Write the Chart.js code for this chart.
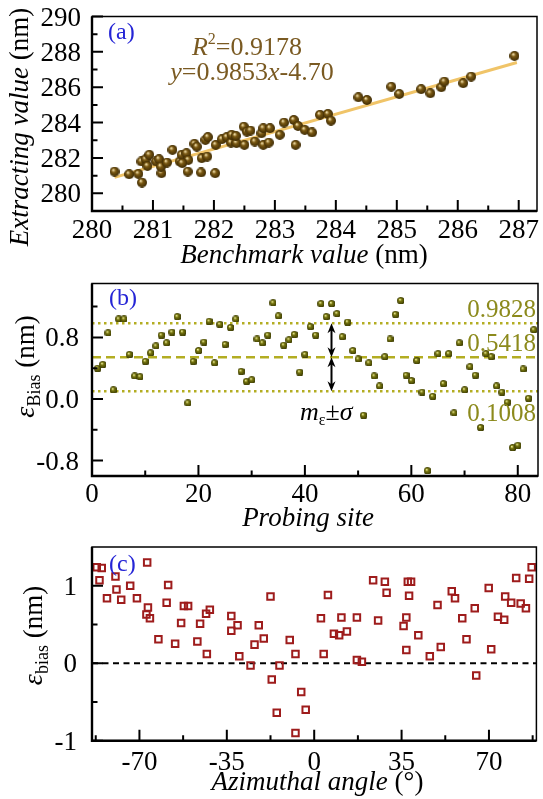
<!DOCTYPE html>
<html><head><meta charset="utf-8">
<script src="https://cdn.jsdelivr.net/npm/chart.js@4.4.0/dist/chart.umd.min.js"></script>
<style>
html,body{margin:0;padding:0;background:#fff;}
#wrap{position:relative;width:543px;height:799px;overflow:hidden;background:#fff;}
canvas{position:absolute;left:0;}
</style></head><body>
<div id="wrap">
<canvas id="ca" width="543" height="270" style="top:0px"></canvas>
<canvas id="cb" width="543" height="265" style="top:270px"></canvas>
<canvas id="cc" width="543" height="264" style="top:535px"></canvas>
</div>
<script>
// ---------------- Panel (a) data ----------------
const benchX = [280.37,280.61,280.76,280.82,280.81,280.88,280.94,280.91,281.05,281.10,281.14,281.13,281.23,281.32,281.44,281.47,281.55,281.58,281.57,281.48,281.68,281.72,281.79,281.80,281.89,281.86,281.90,282.02,282.03,282.13,282.21,282.28,282.37,282.50,282.67,282.81,282.90,283.34,282.29,282.36,282.49,282.54,282.60,282.78,282.81,282.92,283.08,283.15,283.31,283.38,283.49,283.61,283.74,283.87,283.92,284.37,284.51,284.91,285.04,285.40,285.55,285.73,285.78,286.09,286.22,286.93];
const extractY = [281.23,281.08,281.10,280.61,281.80,281.93,282.18,281.55,281.80,281.93,281.14,281.51,281.74,282.46,281.80,282.18,282.27,281.89,281.23,281.71,282.80,282.64,281.18,281.99,282.08,283.02,283.18,281.14,282.74,283.06,283.18,282.87,282.84,282.74,282.93,282.74,282.87,282.74,283.31,283.25,283.77,283.49,283.55,283.40,283.68,283.68,283.31,284.00,284.15,283.81,283.59,283.44,284.44,284.49,284.11,285.43,285.28,286.03,285.62,285.89,285.66,286.00,286.32,286.23,286.60,287.77];
const fitX = [280.37, 286.97];
const fitY = [280.90, 287.40];
const aXRange = [280, 287.3];
const aYRange = [279, 290];
const aXMajor = [280,281,282,283,284,285,286,287];
const aXMinor = [280.5,281.5,282.5,283.5,284.5,285.5,286.5];
const aYMajor = [280,282,284,286,288,290];
const aYMinor = [281,283,285,287,289];

// ---------------- Panel (b) data ----------------
const probeSites = [1,2,3,4,5,6,7,8,9,10,11,12,13,14,15,16,17,18,19,20,21,22,23,24,25,26,27,28,29,30,31,32,33,34,35,36,37,38,39,40,41,42,43,44,45,46,47,48,49,50,51,52,53,54,55,56,57,58,59,60,61,62,63,64,65,66,67,68,69,70,71,72,73,74,75,76,77,78,79,80,81,82,83];
const biasB = [0.40,0.45,0.86,0.12,1.04,1.04,0.58,0.30,0.29,0.49,0.60,0.69,0.83,0.73,0.87,1.07,0.87,-0.05,0.49,0.63,0.74,1.01,0.47,0.97,0.71,0.93,1.04,0.36,0.23,0.25,0.78,0.73,0.83,1.25,1.08,0.70,0.77,0.84,0.35,0.58,0.94,0.83,1.24,1.07,1.24,1.11,0.81,1.00,0.63,0.52,-0.21,0.47,0.30,0.17,0.55,0.78,1.10,1.28,0.31,0.24,0.50,0.09,-0.93,0.035,0.59,0.20,0.59,-0.18,0.73,0.12,0.42,0.31,-0.37,0.59,0.55,0.17,0.09,-0.04,-0.63,-0.60,0.39,0.01,0.90];
const biasLines = [0.9828, 0.5418, 0.1008];   // m+σ, m, m-σ
const arrowSite = [45];
const bXRange = [0, 83.8];
const bYRange = [-1, 1.5];
const bXMajor = [0,20,40,60,80];
const bXMinor = [10,30,50,70];
const bYMajor = [-0.8,0,0.8];
const bYMinor = [-0.4,0.4,1.2];

// ---------------- Panel (c) data ----------------
const angleC = [-87.1,-85.1,-86.0,-83.0,-79.6,-79.2,-77.3,-73.7,-71.0,-66.9,-66.6,-67.2,-65.8,-62.4,-59.1,-58.5,-55.7,-53.3,-52.2,-50.5,-46.8,-45.7,-43.3,-41.8,-43.0,-33.2,-33.2,-30.7,-30.0,-25.5,-23.9,-22.2,-20.2,-17.5,-17.0,-15.0,-13.9,-9.8,-7.5,-7.5,-5.2,-3.4,2.7,3.8,5.5,7.9,10.0,10.9,13.1,17.1,17.1,19.1,23.6,25.6,28.3,29.0,35.8,36.9,36.9,37.5,38.8,38.0,41.7,46.3,49.4,50.7,55.1,56.4,59.3,61.0,64.3,64.9,69.9,70.9,73.6,76.1,76.5,78.9,80.9,82.7,84.8,86.1,87.1];
const biasC = [1.24,1.23,1.07,0.84,1.12,0.95,0.82,1.00,0.84,1.30,0.72,0.63,0.58,0.31,0.78,1.01,0.25,0.52,0.74,0.74,0.28,0.51,0.64,0.69,0.12,0.61,0.42,0.49,0.09,-0.03,0.24,0.49,0.32,0.86,-0.21,-0.64,-0.03,0.30,0.12,-0.90,-0.37,-0.60,0.58,0.12,0.88,0.38,0.36,0.59,0.41,0.59,0.04,0.02,1.07,0.55,1.05,0.91,0.48,0.59,0.17,1.05,1.05,0.87,0.36,0.09,0.75,0.21,0.93,0.84,0.58,0.31,0.71,-0.16,0.97,0.18,0.60,0.56,0.86,0.78,1.10,0.77,0.71,1.09,1.24];
const zeroRef = [0];
const cXRange = [-89, 89];
const cYRange = [-1, 1.5];
const cXMajor = [-70,-35,0,35,70];
const cXMinor = [-87.5,-52.5,-17.5,17.5,52.5,87.5];
const cYMajor = [-1,0,1];
const cYMinor = [-0.5,0.5];

// ---------------- helpers ----------------
const FONT = '"Liberation Serif","Times New Roman",serif';
function sphere(d, light, base, dark) {
  const c = document.createElement('canvas');
  c.width = d; c.height = d;
  const g = c.getContext('2d');
  const grd = g.createRadialGradient(d*0.36, d*0.32, d*0.04, d*0.5, d*0.5, d*0.52);
  grd.addColorStop(0, light); grd.addColorStop(0.35, base); grd.addColorStop(1, dark);
  g.fillStyle = grd; g.beginPath(); g.arc(d/2, d/2, d/2, 0, Math.PI*2); g.fill();
  return c;
}
function rich(ctx, parts, x, y, align, rot) {
  ctx.save(); ctx.translate(x, y); if (rot) ctx.rotate(rot);
  const fonts = parts.map(p => (p.i ? 'italic ' : '') + p.s + 'px ' + FONT);
  const ws = parts.map((p, k) => { ctx.font = fonts[k]; return ctx.measureText(p.t).width; });
  const tot = ws.reduce((a, b) => a + b, 0);
  let cx = align === 'center' ? -tot/2 : (align === 'right' ? -tot : 0);
  ctx.textBaseline = 'alphabetic'; ctx.textAlign = 'left';
  parts.forEach((p, k) => { ctx.font = fonts[k]; ctx.fillStyle = p.c || '#000'; ctx.fillText(p.t, cx, p.dy || 0); cx += ws[k]; });
  ctx.restore();
}
// frame, inward ticks and tick labels, all placed through the chart's own scales
function axes(chart, c) {
  const ctx = chart.ctx, a = chart.chartArea, xs = chart.scales.x, ys = chart.scales.y;
  ctx.save();
  ctx.strokeStyle = '#000';
  ctx.lineWidth = 1.5;
  ctx.strokeRect(a.left, a.top, a.right - a.left, a.bottom - a.top);
  ctx.lineWidth = 2.4;
  ctx.beginPath(); ctx.moveTo(a.left, a.top); ctx.lineTo(a.left, a.bottom); ctx.lineTo(a.right, a.bottom); ctx.stroke();
  ctx.lineWidth = 2;
  ctx.beginPath();
  c.xMaj.forEach(v => { const p = xs.getPixelForValue(v); ctx.moveTo(p, a.bottom); ctx.lineTo(p, a.bottom - 11); });
  c.xMin.forEach(v => { const p = xs.getPixelForValue(v); ctx.moveTo(p, a.bottom); ctx.lineTo(p, a.bottom - 5.5); });
  c.yMaj.forEach(v => { const p = ys.getPixelForValue(v); ctx.moveTo(a.left, p); ctx.lineTo(a.left + 11, p); });
  c.yMin.forEach(v => { const p = ys.getPixelForValue(v); ctx.moveTo(a.left, p); ctx.lineTo(a.left + 5.5, p); });
  ctx.stroke();
  ctx.fillStyle = '#000';
  ctx.font = '27px ' + FONT;
  ctx.textBaseline = 'alphabetic';
  ctx.textAlign = 'center';
  xs.ticks.forEach(t => { ctx.fillText(c.xf(t.value), xs.getPixelForValue(t.value), a.bottom + c.xDy); });
  ctx.textAlign = 'right';
  ys.ticks.forEach(t => { ctx.fillText(c.yf(t.value), c.yRight, ys.getPixelForValue(t.value) + 9); });
  ctx.restore();
}
function opts(cfg) {
  return {
    responsive: false, animation: false, devicePixelRatio: 1,
    layout: { padding: { left: 0, top: cfg.T, right: 543 - cfg.R, bottom: 0 } },
    plugins: { legend: { display: false }, tooltip: { enabled: false } },
    scales: {
      x: { type: 'linear', min: cfg.xr[0], max: cfg.xr[1],
        afterBuildTicks: s => { s.ticks = cfg.xt.map(v => ({ value: v })); },
        afterFit: s => { s.height = cfg.H - cfg.B; s.paddingLeft = 0; s.paddingRight = 0; },
        grid: { display: false }, border: { display: false },
        ticks: { display: false } },
      y: { type: 'linear', min: cfg.yr[0], max: cfg.yr[1],
        afterBuildTicks: s => { s.ticks = cfg.yt.map(v => ({ value: v })); },
        afterFit: s => { s.width = 92; s.paddingTop = 0; s.paddingBottom = 0; },
        grid: { display: false }, border: { display: false },
        ticks: { display: false } }
    }
  };
}
const decoFns = {};
Chart.register({ id: 'deco', afterDraw(chart) { const f = decoFns[chart.canvas.id]; if (f) f(chart, chart.ctx); } });

// ---------------- Panel (a) ----------------
const ballA = sphere(10, '#efdca6', '#7a5812', '#3a2803');
const brown = '#7a5a22';
decoFns.ca = (chart, ctx) => {
  axes(chart, { xMaj: aXMajor, xMin: aXMinor, yMaj: aYMajor, yMin: aYMinor, xf: v => String(v), yf: v => String(v), xDy: 27, yRight: 81 });
  rich(ctx, [{ t: '(a)', s: 24, c: '#2525d6' }], 108, 39, 'left');
  rich(ctx, [{ t: 'R', i: 1, s: 26, c: brown }, { t: '2', s: 16, dy: -11, c: brown }, { t: '=0.9178', s: 26, c: brown }], 247, 55, 'center');
  rich(ctx, [{ t: 'y', i: 1, s: 26, c: brown }, { t: '=0.9853', s: 26, c: brown }, { t: 'x', i: 1, s: 26, c: brown }, { t: '-4.70', s: 26, c: brown }], 252, 80, 'center');
  rich(ctx, [{ t: 'Benchmark value', i: 1, s: 27 }, { t: ' (nm)', s: 27 }], 304, 263, 'center');
  rich(ctx, [{ t: 'Extracting value', i: 1, s: 27 }, { t: ' (nm)', s: 27 }], 28, 127, 'center', -Math.PI/2);
};
new Chart(document.getElementById('ca'), {
  type: 'scatter',
  data: { datasets: [
    { data: benchX.map((x, i) => ({ x: x, y: extractY[i] })), pointStyle: ballA, pointRadius: 5 },
    { data: fitX.map((x, i) => ({ x: x, y: fitY[i] })), showLine: true, borderColor: '#f0c468', borderWidth: 3, pointRadius: 0 }
  ] },
  options: opts({ T: 16.5, R: 541.5, H: 270, B: 211, xr: aXRange, yr: aYRange, xt: aXMajor, yt: aYMajor })
});

// ---------------- Panel (b) ----------------
const ballB = sphere(7.5, '#eeee9a', '#77760e', '#353502');
const olive = '#8c8a1c';
const lineCol = '#b3ad22';
decoFns.cb = (chart, ctx) => {
  axes(chart, { xMaj: bXMajor, xMin: bXMinor, yMaj: bYMajor, yMin: bYMinor, xf: v => String(v), yf: v => Number(v).toFixed(1), xDy: 26, yRight: 79 });
  const xs = chart.scales.x, ys = chart.scales.y;
  rich(ctx, [{ t: '(b)', s: 24, c: '#2525d6' }], 109, 35, 'left');
  const offs = [-6, -6.5, 30];
  biasLines.forEach((v, k) => {
    rich(ctx, [{ t: v.toFixed(4), s: 25, c: olive }], 536, ys.getPixelForValue(v) + offs[k], 'right');
  });
  // double arrows between the mean and the ±σ lines
  const ax = xs.getPixelForValue(arrowSite[0]);
  ctx.save(); ctx.strokeStyle = '#000'; ctx.fillStyle = '#000'; ctx.lineWidth = 2;
  for (let k = 0; k < 2; k++) {
    const y1 = ys.getPixelForValue(biasLines[k]), y2 = ys.getPixelForValue(biasLines[k + 1]);
    ctx.beginPath(); ctx.moveTo(ax, y1 + 4); ctx.lineTo(ax, y2 - 4); ctx.stroke();
    ctx.beginPath(); ctx.moveTo(ax, y1); ctx.lineTo(ax - 4, y1 + 10); ctx.lineTo(ax, y1 + 7); ctx.lineTo(ax + 4, y1 + 10); ctx.closePath(); ctx.fill();
    ctx.beginPath(); ctx.moveTo(ax, y2); ctx.lineTo(ax - 4, y2 - 10); ctx.lineTo(ax, y2 - 7); ctx.lineTo(ax + 4, y2 - 10); ctx.closePath(); ctx.fill();
  }
  ctx.restore();
  rich(ctx, [{ t: 'm', i: 1, s: 26 }, { t: 'ε', s: 16, dy: 5 }, { t: '±', s: 26 }, { t: 'σ', i: 1, s: 26 }], 300, 150, 'left');
  rich(ctx, [{ t: 'Probing site', i: 1, s: 27 }], 308, 256, 'center');
  rich(ctx, [{ t: 'ε', i: 1, s: 28 }, { t: 'Bias', s: 18, dy: 6 }, { t: ' (nm)', s: 27 }], 34, 96.5, 'center', -Math.PI/2);
};
const hLineSets = biasLines.map((v, k) => ({
  data: bXRange.map(x => ({ x: x, y: v })), showLine: true, pointRadius: 0,
  borderColor: lineCol, borderWidth: 2.5, borderDash: k === 1 ? [9, 5] : [2.5, 3.5]
}));
new Chart(document.getElementById('cb'), {
  type: 'scatter',
  data: { datasets: [{ data: probeSites.map((s, i) => ({ x: s, y: biasB[i] })), pointStyle: ballB, pointRadius: 4 }].concat(hLineSets) },
  options: opts({ T: 13.5, R: 541, H: 265, B: 206, xr: bXRange, yr: bYRange, xt: bXMajor, yt: bYMajor })
});

// ---------------- Panel (c) ----------------
decoFns.cc = (chart, ctx) => {
  axes(chart, { xMaj: cXMajor, xMin: cXMinor, yMaj: cYMajor, yMin: cYMinor, xf: v => String(v), yf: v => String(v), xDy: 29, yRight: 77 });
  rich(ctx, [{ t: '(c)', s: 24, c: '#2525d6' }], 109, 36, 'left');
  rich(ctx, [{ t: 'Azimuthal angle', i: 1, s: 27 }, { t: ' (°)', s: 27 }], 317.5, 255, 'center');
  rich(ctx, [{ t: 'ε', i: 1, s: 28 }, { t: 'bias', s: 18, dy: 6 }, { t: ' (nm)', s: 27 }], 42, 100.5, 'center', -Math.PI/2);
};
new Chart(document.getElementById('cc'), {
  type: 'scatter',
  data: { datasets: [
    { data: angleC.map((a, i) => ({ x: a, y: biasC[i] })), pointStyle: 'rect', pointRadius: 4.6, borderWidth: 2, borderColor: '#9e1c1c', backgroundColor: 'rgba(255,255,255,0)' },
    { data: cXRange.map(x => ({ x: x, y: zeroRef[0] })), showLine: true, pointRadius: 0, borderColor: '#000', borderWidth: 2, borderDash: [6, 4.5] }
  ] },
  options: opts({ T: 12, R: 541.7, H: 264, B: 205.7, xr: cXRange, yr: cYRange, xt: cXMajor, yt: cYMajor })
});
</script>
</body></html>
